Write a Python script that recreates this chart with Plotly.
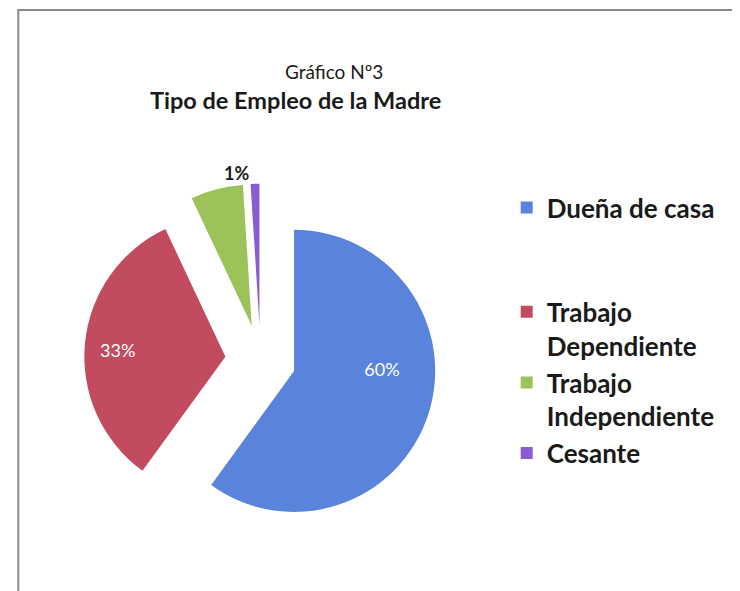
import plotly.graph_objects as go

# ---- data ----
categories = ["Dueña de casa", "Trabajo Dependiente", "Trabajo Independiente", "Cesante"]
legend_labels = ["Dueña de casa<br> <br> ", "Trabajo<br>Dependiente",
                 "Trabajo<br>Independiente", "Cesante"]
values = [60, 33, 6, 1]
value_labels = ["60%", "33%", "", "1%"]
label_positions = ["inside", "inside", "none", "outside"]
colors = ["#5A84DC", "#C24B60", "#9CC35A", "#8A5CD4"]

FONT = "Lato"
NB = "\u00a0"

# the page body has a small margin: convert screen px to paper coords
def px(x):
    return (x - 8) / 740


def py(y):
    return 1 - (y - 8) / 591


# label strings padded so the visible text sits where the original shows it
shown_text = [NB * 9 + value_labels[0] + "<br>" + NB + "<br>" + NB,
              value_labels[1] + NB * 14,
              value_labels[2],
              value_labels[3]]

# pie geometry (screen px): centre and exploded extent
cx, cy, ext = 247, 360, 181.25

fig = go.Figure()
fig.add_trace(go.Pie(
    labels=legend_labels,
    values=values,
    customdata=categories,
    sort=False,
    direction="clockwise",
    rotation=0,
    pull=[0.25, 0.25, 0.25, 0.25],
    marker=dict(colors=colors, line=dict(width=0)),
    text=shown_text,
    textinfo="text",
    textposition=label_positions,
    insidetextorientation="horizontal",
    insidetextfont=dict(color="white", size=18, family=FONT),
    outsidetextfont=dict(color="#1a1a1a", size=18, family=FONT, weight="bold"),
    hovertemplate="%{customdata}: %{percent}<extra></extra>",
    domain=dict(x=[px(cx - ext), px(cx + ext)], y=[py(cy + ext), py(cy - ext)]),
))

fig.update_layout(
    width=740, height=591,
    margin=dict(l=0, r=0, t=0, b=0),
    paper_bgcolor="white",
    plot_bgcolor="white",
    font=dict(family=FONT, color="#1a1a1a"),
    showlegend=True,
    legend=dict(
        x=px(500), y=py(184), xanchor="left", yanchor="top",
        font=dict(size=26, family=FONT, color="#1a1a1a", weight="bold"),
        valign="top",
        bgcolor="rgba(0,0,0,0)",
    ),
    annotations=[
        dict(text="Gráfico Nº3", x=px(323), y=py(72), xref="paper", yref="paper",
             showarrow=False, xanchor="center", yanchor="middle",
             font=dict(size=19, family=FONT, color="#1a1a1a")),
        dict(text="<b>Tipo de Empleo de la Madre</b>", x=px(283), y=py(100),
             xref="paper", yref="paper", showarrow=False, xanchor="center", yanchor="middle",
             font=dict(size=23.5, family=FONT, color="#1a1a1a")),
    ],
    shapes=[
        dict(type="rect", xref="paper", yref="paper",
             x0=-10 / 740, x1=1.05, y0=-0.05, y1=py(10),
             line=dict(color="#8a8a8a", width=2), fillcolor="rgba(0,0,0,0)", layer="below"),
    ],
)

fig.write_html("out.html")
